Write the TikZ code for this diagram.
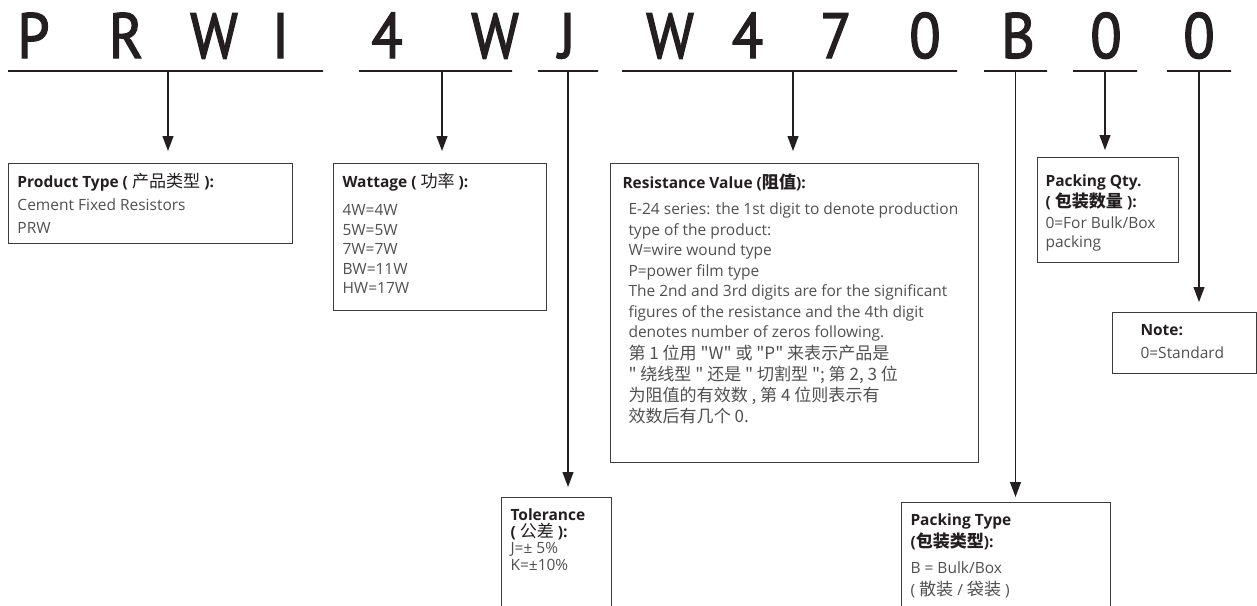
\documentclass[tikz,border=0pt]{standalone}
\usepackage{fontspec}
\setmainfont{Open Sans}
\newfontfamily\cjk{Noto Sans CJK SC}[Scale=1.1]
\newfontfamily\codefont{PT Sans}[FakeStretch=0.9, FakeBold=2]
\usetikzlibrary{arrows.meta}
\definecolor{inkblack}{RGB}{35, 31, 32}
\definecolor{textgray}{RGB}{80, 80, 80}
\definecolor{framegray}{RGB}{60, 60, 60}
\newcommand{\head}[1]{{\bfseries\color{inkblack}#1}}
\newcommand{\boxtext}[4]{\parbox[t][#2][t]{#1}{\raggedright\leftskip=#3\relax
  \rightskip=0pt plus 1fil minus 60pt\relax #4}}
\tikzset{
  codechar/.style={anchor=base, inner sep=0pt, text=inkblack,
              font=\codefont\fontsize{64}{64}\selectfont},
  codeline/.style={rectangle, draw=inkblack, line width=1.3pt,
              minimum width=#1, minimum height=0pt, inner sep=0pt},
  infobox/.style={rectangle, draw=framegray, line width=1pt, inner sep=0pt,
              anchor=north west, text=textgray, font=\fontsize{15.5}{19.5}\selectfont},
  arrow/.style={-{Triangle[length=15pt, width=11pt]}, line width=1.1pt, color=inkblack},
}

\begin{document}
\begin{tikzpicture}[x=1pt, y=-1pt]
  \path[use as bounding box] (0,0) rectangle (1257,605);
  \clip (0,0) rectangle (1257,605);

  \node[codechar] (cP) at (33.5,58) {P};
  \node[codechar] (cR) at (126,58) {R};
  \node[codechar] (cW1) at (214,58) {W};
  \node[codechar] (cI) at (280.5,58) {I};
  \node[codechar] (c4a) at (387,58) {4};
  \node[codechar] (cW2) at (495,58) {W};
  \node[codechar] (cJ) at (567,58) {J};
  \node[codechar] (cW3) at (670,58) {W};
  \node[codechar] (c4b) at (747.5,58) {4};
  \node[codechar] (c7) at (836,58) {7};
  \node[codechar] (c0a) at (925,58) {0};
  \node[codechar] (cB) at (1018,58) {B};
  \node[codechar] (c0b) at (1106,58) {0};
  \node[codechar] (c0c) at (1199,58) {0};

  \node[codeline=315pt] (uPRWI) at (165.5,71) {};
  \node[codeline=153pt] (u4W) at (435.5,71) {};
  \node[codeline=60pt] (uJ) at (568,71) {};
  \node[codeline=335pt] (uW470) at (789.5,71) {};
  \node[codeline=63pt] (uB) at (1015.5,71) {};
  \node[codeline=64pt] (uQty) at (1105,71) {};
  \node[codeline=64pt] (uNote) at (1199,71) {};

  \node[infobox] (ptype) at (8,163) {\boxtext{284pt}{80pt}{9pt}{\rule{0pt}{24pt}%
    \head{Product Type ( {\mdseries\cjk 产品类型} ):}\\[3.5pt] Cement Fixed Resistors\\[3.5pt] PRW}};
  \node[infobox] (watt) at (333,163) {\boxtext{213pt}{147pt}{9pt}{\rule{0pt}{24pt}%
    \head{Wattage ( {\mdseries\cjk 功率} ):}\\[8.5pt] 4W=4W\\ 5W=5W\\ 7W=7W\\ BW=11W\\ HW=17W}};
  \node[infobox, font=\fontsize{15.5}{20.5}\selectfont] (resv) at (610,163) {\boxtext{368pt}{299pt}{12pt}{\rule{0pt}{25pt}%
    \head{Resistance Value ({\cjk 阻值}):}\par\vspace{5.5pt}\leftskip=18pt
    E-24 series: the 1st digit to denote production\\ type of the product:\\
    W=wire wound type\\ P=power film type\\
    The 2nd and 3rd digits are for the significant\\
    figures of the resistance and the 4th digit\\
    denotes number of zeros following.\par\vspace{1pt}
    {\cjk\fontsize{15.5}{21}\selectfont 第 1 位用 "W" 或 "P" 来表示产品是\\
    " 绕线型 " 还是 " 切割型 "; 第 2, 3 位\\ 为阻值的有效数 , 第 4 位则表示有\\
    效数后有几个 0.\par}}};
  \node[infobox, font=\fontsize{15.5}{16.5}\selectfont] (tol) at (501,497) {\boxtext{110pt}{130pt}{9pt}{\rule{0pt}{23pt}%
    \head{Tolerance}\\ \head{( {\mdseries\cjk 公差} ):}\\ J=± 5\%\\ K=±10\%}};
  \node[infobox] (ptyp) at (901,502) {\boxtext{209pt}{130pt}{9pt}{\rule{0pt}{23pt}%
    \head{Packing Type}\\[2.5pt] \head{({\cjk 包装类型}):}\\[6.5pt] B = Bulk/Box\\[2.5pt] ( {\cjk 散装} / {\cjk 袋装} )}};
  \node[infobox] (pqty) at (1037,157) {\boxtext{141pt}{105pt}{8pt}{\rule{0pt}{29pt}%
    \head{Packing Qty.}\\[1pt] \head{( {\cjk 包装数量} ):}\\[1.5pt] 0=For Bulk/Box\\ packing}};
  \node[infobox] (note) at (1112,312) {\boxtext{144pt}{61pt}{28pt}{\rule{0pt}{23pt}%
    \head{Note:}\\[3.5pt] 0=Standard}};

  \coordinate (kPRWI) at ([xshift=2.5pt]uPRWI.center);
  \coordinate (k4W) at ([xshift=6.5pt]u4W.center);
  \coordinate (kW470) at ([xshift=3.5pt]uW470.center);

  \draw[arrow, shorten >=12pt] (kPRWI) -- (kPRWI |- ptype.north);
  \draw[arrow, shorten >=12pt] (k4W) -- (k4W |- watt.north);
  \draw[arrow, shorten >=10pt] (uJ.center) -- (uJ.center |- tol.north);
  \draw[arrow, shorten >=12pt] (kW470) -- (kW470 |- resv.north);
  \draw[arrow, shorten >=5pt] (uB.center) -- (uB.center |- ptyp.north);
  \draw[arrow, shorten >=7pt] (uQty.center) -- (uQty.center |- pqty.north);
  \draw[arrow, shorten >=10pt] (uNote.center) -- (uNote.center |- note.north);
\end{tikzpicture}
\end{document}
